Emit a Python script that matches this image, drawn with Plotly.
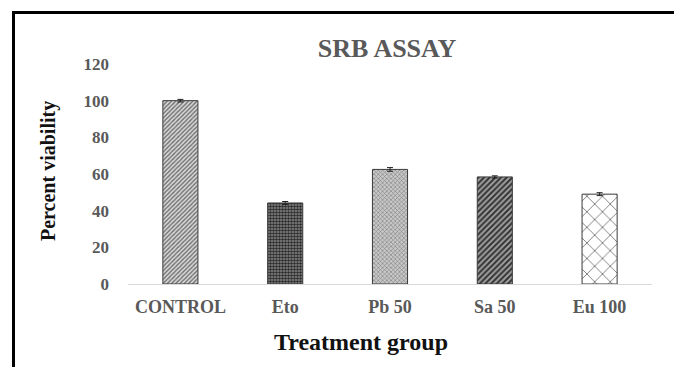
import plotly.graph_objects as go

categories = ["CONTROL", "Eto", "Pb 50", "Sa 50", "Eu 100"]
viability = [100, 44.2, 62.5, 58.4, 49.0]
errors = [0.7, 0.8, 1.0, 0.6, 0.8]
y_ticks = [0, 20, 40, 60, 80, 100, 120]

pat_shapes = ["/", ".", "x", "/", "x"]
pat_fg = ["#6e6e6e", "#2a2a2a", "#7a7a7a", "#333333", "#4a4a4a"]
pat_bg = ["#dadada", "#8a8a8a", "#c8c8c8", "#a0a0a0", "#ffffff"]
pat_size = [3, 3, 3, 4, 11]
pat_sol = [0.45, 0.55, 0.35, 0.5, 0.12]

FONT = "Liberation Serif"

fig = go.Figure()
fig.add_trace(go.Bar(
    x=categories, y=viability,
    marker=dict(
        color="#ffffff",
        line=dict(color="#3a3a3a", width=1),
        pattern=dict(shape=pat_shapes, fgcolor=pat_fg, bgcolor=pat_bg,
                     size=pat_size, solidity=pat_sol, fillmode="replace"),
    ),
    error_y=dict(type="data", array=errors, color="#222222", thickness=1, width=3),
    showlegend=False,
))

W, H = 674, 367
L, R, T, B = 128, 22, 64, 83
pw, ph = W - L - R, H - T - B

def px_x(p):
    return (p - L) / pw

def px_y(p):
    return (H - B - p) / ph

fig.update_layout(
    width=W, height=H,
    margin=dict(l=L, r=R, t=T, b=B, pad=0),
    paper_bgcolor="white", plot_bgcolor="white",
    bargap=0.665,
    font=dict(family=FONT, color="#595959"),
    title=dict(text="<b>SRB ASSAY</b>", x=387 / W, xanchor="center",
               y=1 - 48 / H, yanchor="middle",
               font=dict(family=FONT, size=26, color="#595959")),
    xaxis=dict(showline=True, linecolor="#d9d9d9", linewidth=1,
               ticks="", showgrid=False,
               tickfont=dict(family=FONT, size=18, color="#595959", weight="bold"),
               ticklabelstandoff=6),
    yaxis=dict(range=[0, 120], tickvals=y_ticks, showgrid=False,
               showline=False, zeroline=False, ticks="",
               tickfont=dict(family=FONT, size=17, color="#595959", weight="bold"),
               ticklabelstandoff=18),
)

fig.add_annotation(text="<b>Percent viability</b>", xref="paper", yref="paper",
                   x=px_x(48), y=px_y(171), textangle=-90, showarrow=False,
                   xanchor="center", yanchor="middle",
                   font=dict(family=FONT, size=20, color="#111111"))
fig.add_annotation(text="<b>Treatment group</b>", xref="paper", yref="paper",
                   x=px_x(361), y=px_y(342), showarrow=False,
                   xanchor="center", yanchor="middle",
                   font=dict(family=FONT, size=24, color="#111111"))

# frame lines of the original figure box
fig.add_shape(type="line", xref="paper", yref="paper",
              x0=px_x(12), x1=px_x(680), y0=px_y(12.5), y1=px_y(12.5),
              line=dict(color="black", width=3))
fig.add_shape(type="line", xref="paper", yref="paper",
              x0=px_x(13.5), x1=px_x(13.5), y0=px_y(11), y1=px_y(372),
              line=dict(color="black", width=3))

fig.write_html("out.html")
